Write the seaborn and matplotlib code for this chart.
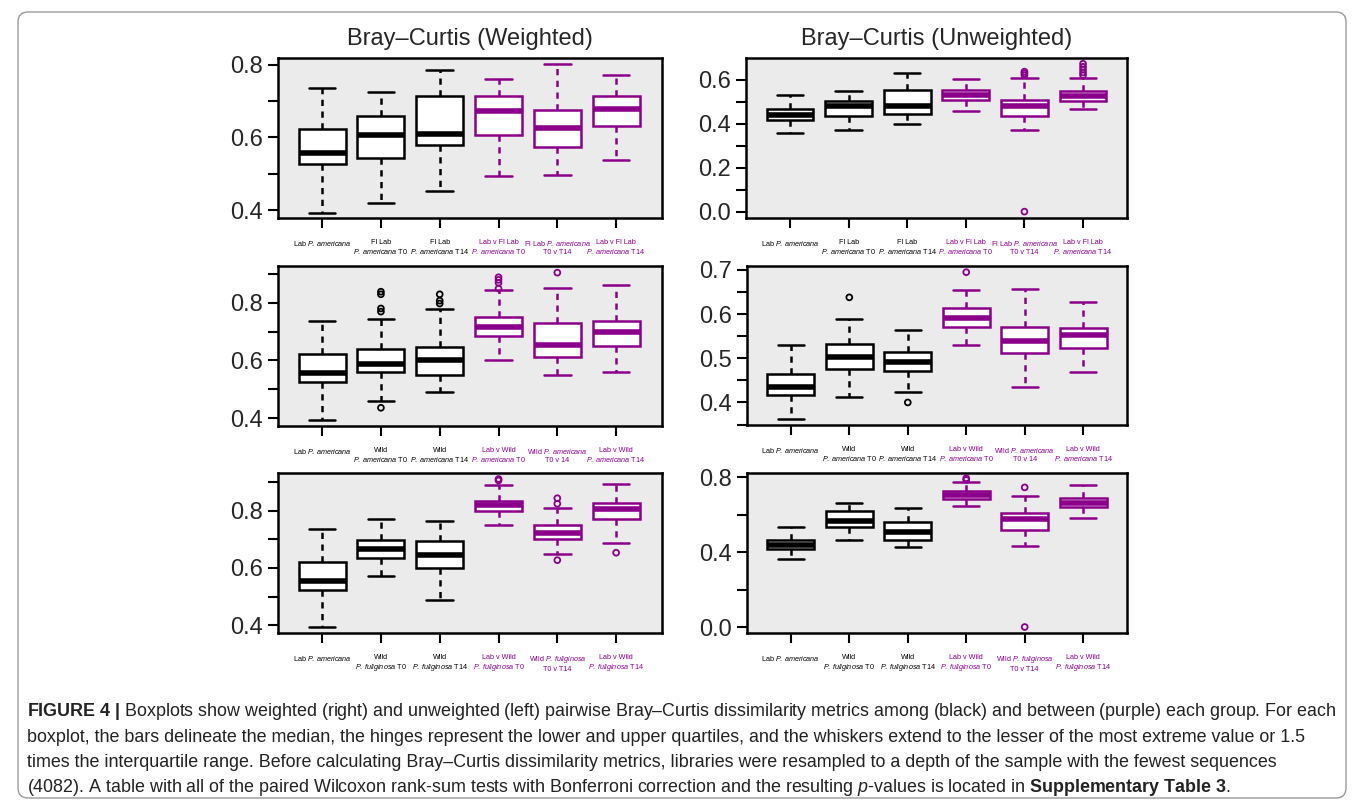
import pandas as pd
import seaborn as sns
import matplotlib.pyplot as plt
from matplotlib.ticker import FormatStrFormatter
from matplotlib.patches import FancyBboxPatch


sns.set_theme(style='ticks')
plt.rcParams['font.family'] = ['Liberation Sans', 'DejaVu Sans']
plt.rcParams['mathtext.fontset'] = 'custom'
plt.rcParams['mathtext.rm'] = 'Liberation Sans'
plt.rcParams['mathtext.it'] = 'Liberation Sans:italic'
plt.rcParams['mathtext.bf'] = 'Liberation Sans:bold'

PURPLE = '#8B008B'

# x tick labels for each row of panels
fl_labels = ['Lab $\\mathit{P.\\,americana}$',
             'Fl Lab\n$\\mathit{P.\\,americana}$ T0',
             'Fl Lab\n$\\mathit{P.\\,americana}$ T14',
             'Lab v Fl Lab\n$\\mathit{P.\\,americana}$ T0',
             'Fl Lab $\\mathit{P.\\,americana}$\nT0 v T14',
             'Lab v Fl Lab\n$\\mathit{P.\\,americana}$ T14']
wild_am_labels = ['Lab $\\mathit{P.\\,americana}$',
                  'Wild\n$\\mathit{P.\\,americana}$ T0',
                  'Wild\n$\\mathit{P.\\,americana}$ T14',
                  'Lab v Wild\n$\\mathit{P.\\,americana}$ T0',
                  'Wild $\\mathit{P.\\,americana}$\nT0 v 14',
                  'Lab v Wild\n$\\mathit{P.\\,americana}$ T14']
wild_fu_labels = ['Lab $\\mathit{P.\\,americana}$',
                  'Wild\n$\\mathit{P.\\,fuliginosa}$ T0',
                  'Wild\n$\\mathit{P.\\,fuliginosa}$ T14',
                  'Lab v Wild\n$\\mathit{P.\\,fuliginosa}$ T0',
                  'Wild $\\mathit{P.\\,fuliginosa}$\nT0 v T14',
                  'Lab v Wild\n$\\mathit{P.\\,fuliginosa}$ T14']
# first three boxes are within a group (black), last three between groups (purple)
kinds = ['among', 'among', 'among', 'between', 'between', 'between']

# five-number summaries: lower whisker, Q1, median, Q3, upper whisker
wt_fl = [[0.393, 0.526, 0.556, 0.623, 0.737],
         [0.418, 0.544, 0.606, 0.659, 0.725],
         [0.452, 0.579, 0.609, 0.714, 0.785],
         [0.494, 0.607, 0.674, 0.715, 0.762],
         [0.496, 0.574, 0.625, 0.676, 0.803],
         [0.539, 0.632, 0.679, 0.713, 0.772]]
wt_fl_out = [[], [], [], [], [], []]

uw_fl = [[0.359, 0.415, 0.441, 0.467, 0.529],
         [0.370, 0.436, 0.479, 0.502, 0.550],
         [0.400, 0.445, 0.479, 0.553, 0.629],
         [0.455, 0.505, 0.529, 0.553, 0.602],
         [0.370, 0.436, 0.479, 0.508, 0.608],
         [0.468, 0.502, 0.524, 0.547, 0.608]]
uw_fl_out = [[], [], [], [], [0.0, 0.620, 0.628, 0.636],
             [0.620, 0.632, 0.645, 0.658, 0.672]]

wt_wild_am = [[0.394, 0.525, 0.557, 0.621, 0.736],
              [0.461, 0.561, 0.587, 0.638, 0.742],
              [0.489, 0.550, 0.603, 0.645, 0.778],
              [0.601, 0.684, 0.717, 0.750, 0.845],
              [0.549, 0.612, 0.653, 0.728, 0.851],
              [0.560, 0.651, 0.698, 0.738, 0.862]]
wt_wild_am_out = [[], [0.436, 0.769, 0.780, 0.829, 0.838], [0.797, 0.807, 0.829],
                  [0.849, 0.869, 0.879, 0.888], [0.904], []]

uw_wild_am = [[0.362, 0.417, 0.435, 0.465, 0.530],
              [0.412, 0.476, 0.502, 0.532, 0.588],
              [0.423, 0.472, 0.491, 0.515, 0.564],
              [0.530, 0.570, 0.592, 0.614, 0.655],
              [0.436, 0.511, 0.540, 0.570, 0.656],
              [0.469, 0.524, 0.553, 0.568, 0.627]]
uw_wild_am_out = [[], [0.638], [0.400], [0.695], [], []]

wt_wild_fu = [[0.394, 0.524, 0.556, 0.622, 0.736],
              [0.572, 0.634, 0.666, 0.699, 0.772],
              [0.489, 0.601, 0.644, 0.693, 0.765],
              [0.751, 0.798, 0.819, 0.835, 0.890],
              [0.648, 0.700, 0.722, 0.748, 0.810],
              [0.686, 0.769, 0.807, 0.828, 0.894]]
wt_wild_fu_out = [[], [], [], [0.905, 0.910], [0.627, 0.824, 0.843], [0.653]]

uw_wild_fu = [[0.361, 0.415, 0.437, 0.467, 0.535],
              [0.467, 0.535, 0.567, 0.619, 0.664],
              [0.429, 0.463, 0.510, 0.562, 0.634],
              [0.646, 0.682, 0.703, 0.725, 0.775],
              [0.431, 0.517, 0.576, 0.607, 0.698],
              [0.583, 0.639, 0.662, 0.687, 0.759]]
uw_wild_fu_out = [[], [], [], [0.786, 0.795], [0.0, 0.746], []]

caption = [
    '$\\bf{FIGURE\\ 4\\ |}$ Boxplots show weighted (right) and unweighted (left) pairwise Bray–Curtis '
    'dissimilarity metrics among (black) and between (purple) each group. For each',
    'boxplot, the bars delineate the median, the hinges represent the lower and upper quartiles, '
    'and the whiskers extend to the lesser of the most extreme value or 1.5',
    'times the interquartile range. Before calculating Bray–Curtis dissimilarity metrics, '
    'libraries were resampled to a depth of the sample with the fewest sequences',
    '(4082). A table with all of the paired Wilcoxon rank-sum tests with Bonferroni correction '
    'and the resulting $\\mathit{p}$-values is located in $\\bf{Supplementary\\ Table\\ 3}$.',
]

W, H = 1360, 806
fig = plt.figure(figsize=(W / 100, H / 100), dpi=100)

# (boxes, outliers, labels, pixel box, ylim, major ticks, minor ticks, xlim, title)
panels = [
    (wt_fl, wt_fl_out, fl_labels, (278, 58, 662, 218), (0.378, 0.819),
     [0.4, 0.6, 0.8], [0.5, 0.7], (-0.75, 5.78), 'Bray–Curtis (Weighted)'),
    (uw_fl, uw_fl_out, fl_labels, (746, 58, 1127, 218), (-0.029, 0.698),
     [0.0, 0.2, 0.4, 0.6], [0.1, 0.3, 0.5], (-0.75, 5.75), 'Bray–Curtis (Unweighted)'),
    (wt_wild_am, wt_wild_am_out, wild_am_labels, (278, 266, 662, 426), (0.373, 0.927),
     [0.4, 0.6, 0.8], [0.5, 0.7, 0.9], (-0.75, 5.78), None),
    (uw_wild_am, uw_wild_am_out, wild_am_labels, (747, 266, 1127, 425), (0.349, 0.709),
     [0.4, 0.5, 0.6, 0.7], [0.35, 0.45, 0.55, 0.65], (-0.75, 5.75), None),
    (wt_wild_fu, wt_wild_fu_out, wild_fu_labels, (278, 473, 662, 633), (0.373, 0.931),
     [0.4, 0.6, 0.8], [0.5, 0.7, 0.9], (-0.75, 5.78), None),
    (uw_wild_fu, uw_wild_fu_out, wild_fu_labels, (747, 473, 1127, 633), (-0.032, 0.823),
     [0.0, 0.4, 0.8], [0.2, 0.6], (-0.75, 5.75), None),
]

for boxes, outs, labels, (x0, y0, x1, y1), ylim, major, minor, xlim, title in panels:
    ax = fig.add_axes([x0 / W, 1 - y1 / H, (x1 - x0) / W, (y1 - y0) / H])
    ax.set_facecolor('#ebebeb')

    box_rows = [(lab, k, v) for lab, k, five in zip(labels, kinds, boxes) for v in five]
    df = pd.DataFrame(box_rows, columns=['group', 'kind', 'value'])
    out_rows = [(lab, k, v) for lab, k, vals in zip(labels, kinds, outs) for v in vals]
    odf = pd.DataFrame(out_rows, columns=['group', 'kind', 'value'])

    for kind, col in [('among', 'black'), ('between', PURPLE)]:
        sub = df[df['kind'] == kind]
        sns.boxplot(data=sub, x='group', y='value', order=labels, ax=ax,
                    whis=(0, 100), width=0.8, color='white', linecolor=col,
                    saturation=1, linewidth=1.8, capwidths=0.45,
                    medianprops=dict(linewidth=4),
                    whiskerprops=dict(linestyle=(0, (2.5, 2.2))))
        osub = odf[odf['kind'] == kind]
        if len(osub):
            sns.stripplot(data=osub, x='group', y='value', order=labels, ax=ax,
                          jitter=False, size=4.2, facecolors='none',
                          edgecolor=col, linewidth=1.3, zorder=5)

    ax.set_xlim(*xlim)
    ax.set_ylim(*ylim)
    ax.set_yticks(major)
    ax.set_yticks(minor, minor=True)
    ax.yaxis.set_major_formatter(FormatStrFormatter('%.1f'))
    ax.set_xticks(range(len(labels)))
    ax.set_xticklabels(labels, fontsize=5.2, linespacing=1.15)
    for i, t in enumerate(ax.get_xticklabels()):
        t.set_color('black' if kinds[i] == 'among' else PURPLE)
    ax.tick_params(axis='both', which='both', direction='out', length=7,
                   width=1.5, color='black')
    ax.tick_params(axis='y', labelsize=17, pad=4)
    ax.tick_params(axis='x', pad=8)
    ax.set_xlabel('')
    ax.set_ylabel('')
    for s in ax.spines.values():
        s.set_visible(True)
        s.set_linewidth(1.8)
        s.set_color('black')
    if title:
        ax.set_title(title, fontsize=17, pad=9)

# caption, sized so the first line spans the same width as in the figure
texts = []
for i, line in enumerate(caption):
    texts.append(fig.text(27 / W, 1 - (712 + 25.3 * i) / H, line, fontsize=12,
                          va='center', ha='left', color='#222222'))
r = fig.canvas.get_renderer()
scale = 1311 / texts[0].get_window_extent(r).width
for t in texts:
    t.set_fontsize(12 * scale)

border = FancyBboxPatch((0.18, 0.08), 13.28, 7.86,
                        boxstyle='round,pad=0,rounding_size=0.1',
                        transform=fig.dpi_scale_trans, fill=False,
                        ec='#9a9a9a', lw=1)
fig.patches.append(border)

fig.savefig('out.png', dpi=100)
